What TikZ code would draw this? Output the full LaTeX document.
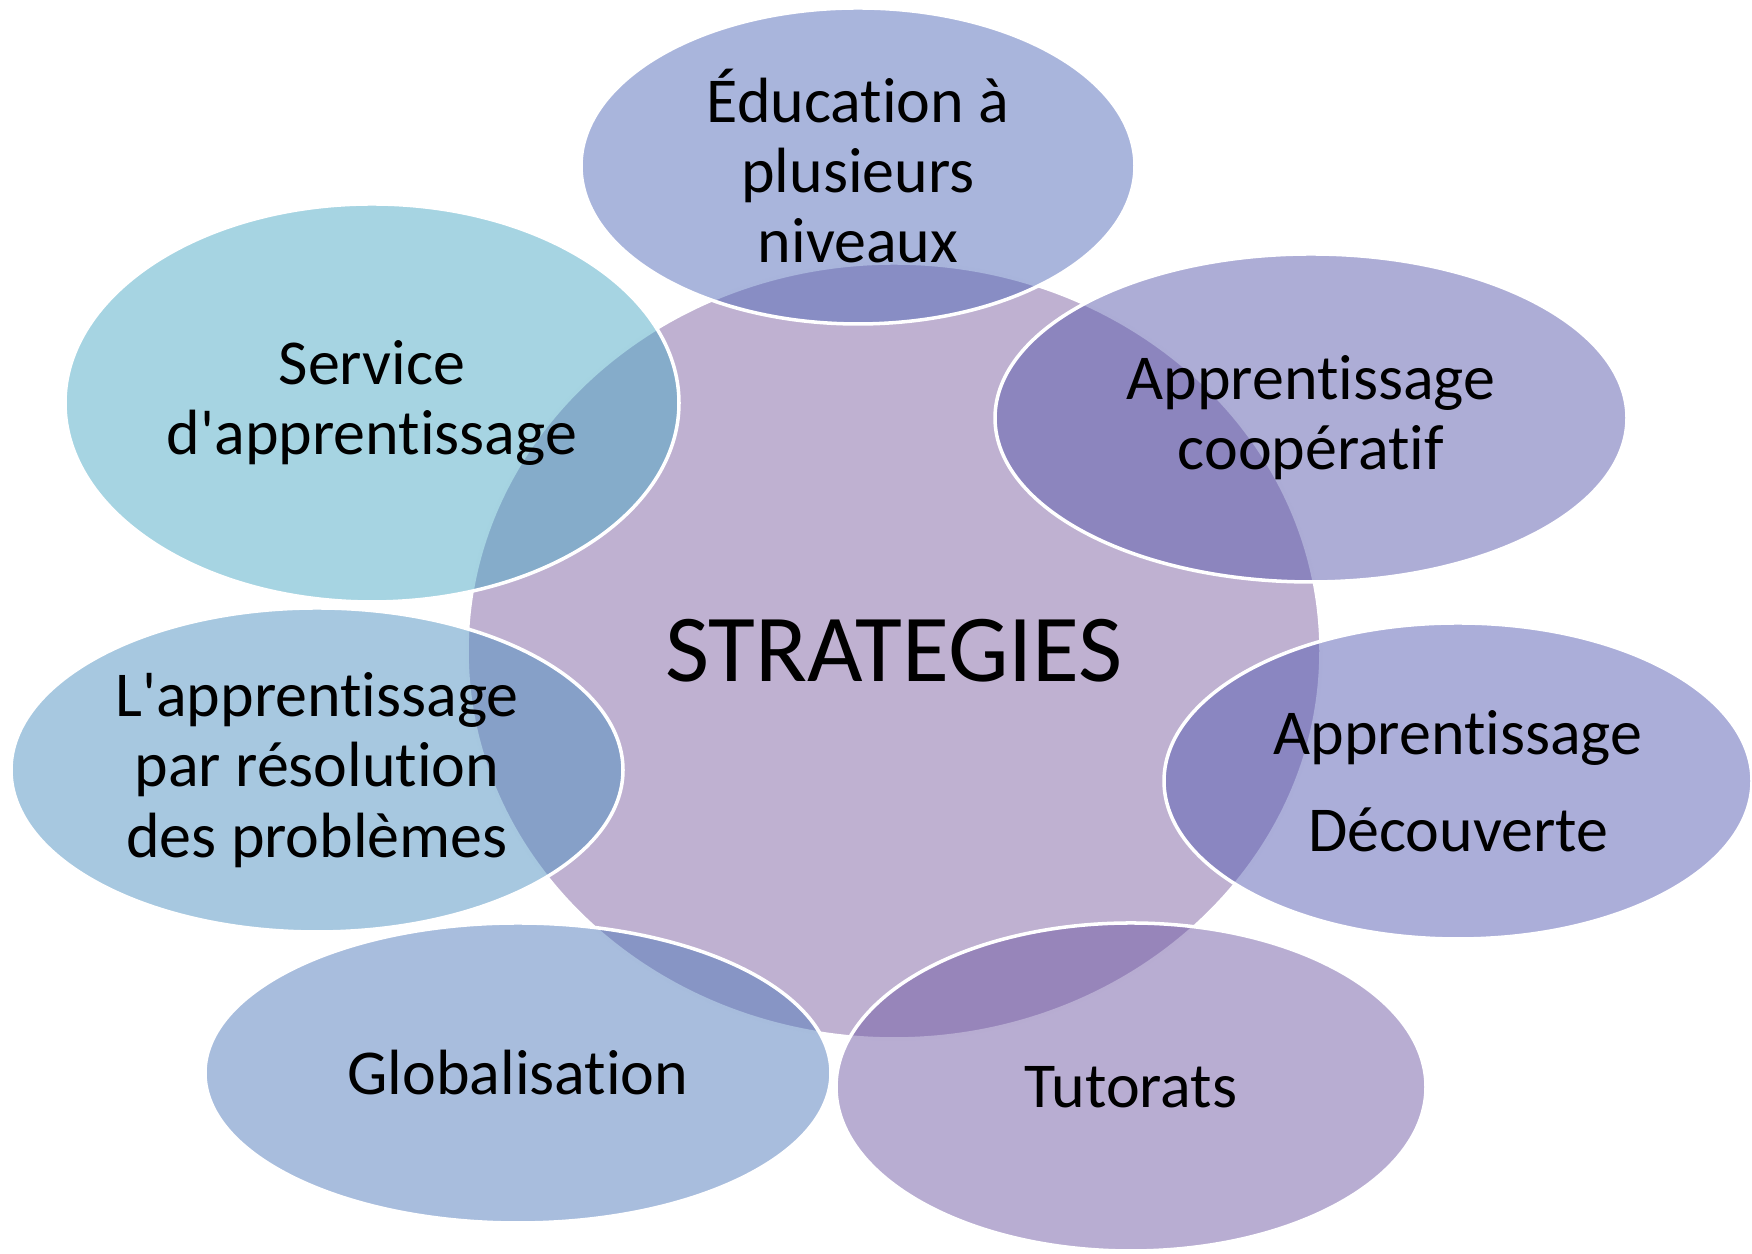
\documentclass[tikz,border=0pt]{standalone}
\usepackage{fontspec}
\setmainfont{Carlito}[Ligatures={TeXOff,CommonOff}]
\usetikzlibrary{shapes.geometric}
\definecolor{centre}{RGB}{191,177,209}
\definecolor{niveaux}{RGB}{83,107,185}
\definecolor{cooperatif}{RGB}{91,91,173}
\definecolor{decouverte}{RGB}{87,93,179}
\definecolor{tutorat}{RGB}{113,91,165}
\definecolor{global}{RGB}{81,123,187}
\definecolor{probleme}{RGB}{79,145,193}
\definecolor{service}{RGB}{77,169,197}

\begin{document}
\begin{tikzpicture}[bulle/.style={ellipse, draw=white, line width=1pt, fill opacity=0.5, text opacity=1, inner sep=0pt, align=center, font=\fontsize{18.2}{20}\selectfont}]
        \useasboundingbox (0,0) rectangle (17.52,12.54);
        \node[bulle, fill=centre, fill opacity=1, minimum width=8.54cm, minimum height=7.76cm, font=\fontsize{27.3}{32}\selectfont] (strat) at (8.94,6.03) {STRATEGIES};
        \node[bulle, fill=niveaux, minimum width=5.54cm, minimum height=3.16cm] (niv) at (8.58,10.88) {Éducation à\\plusieurs\\niveaux};
        \node[bulle, fill=cooperatif, minimum width=6.32cm, minimum height=3.28cm] (coop) at (13.11,8.36) {Apprentissage\\coopératif};
        \node[bulle, fill=decouverte, minimum width=5.88cm, minimum height=3.16cm] (decou) at (14.58,4.73) {Apprentissage\\[7.6pt]Découverte};
        \node[bulle, fill=tutorat, minimum width=5.90cm, minimum height=3.28cm] (tut) at (11.31,1.67) {Tutorats};
        \node[bulle, fill=global, minimum width=6.26cm, minimum height=3.00cm] (glob) at (5.18,1.81) {Globalisation};
        \node[bulle, fill=probleme, minimum width=6.12cm, minimum height=3.24cm] (prob) at (3.17,4.84) {L'apprentissage\\par résolution\\des problèmes};
        \node[bulle, fill=service, minimum width=6.14cm, minimum height=3.98cm] (serv) at (3.72,8.51) {Service\\d'apprentissage};
        \end{tikzpicture}
\end{document}
